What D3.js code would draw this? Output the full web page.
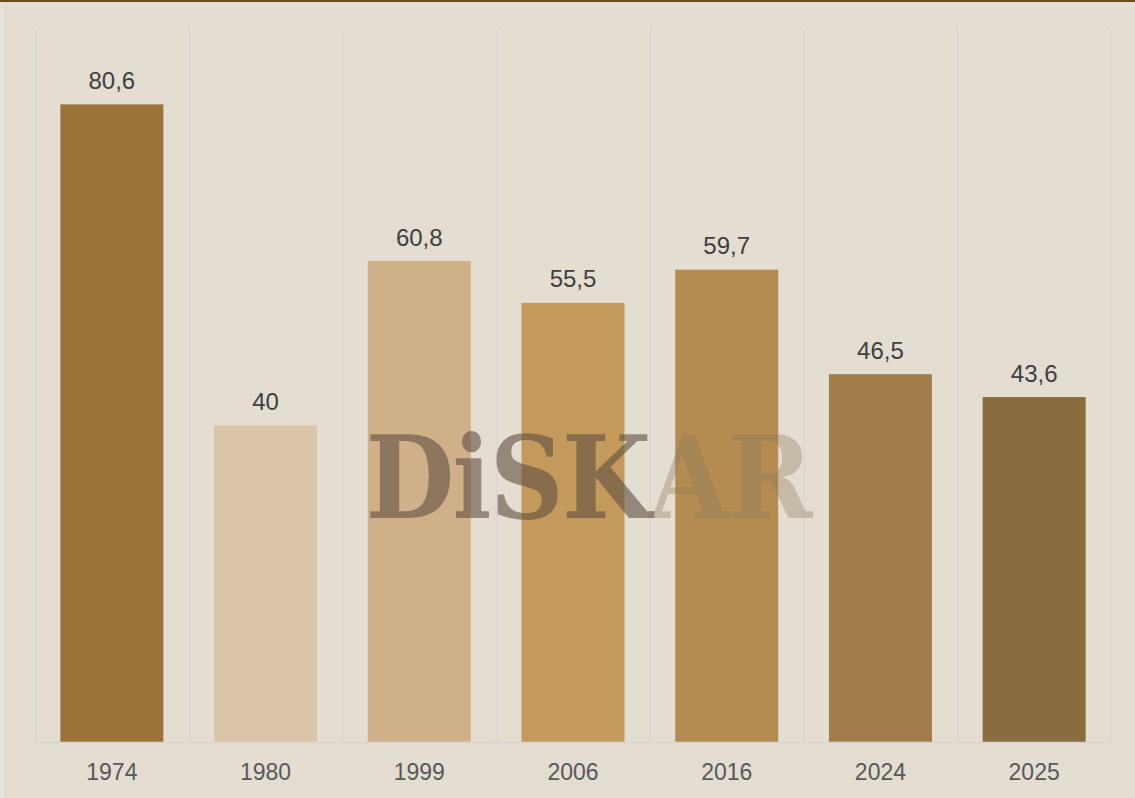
<!DOCTYPE html>
<html>
<head>
<meta charset="utf-8">
<script src="https://cdn.jsdelivr.net/npm/d3@7"></script>
<style>
  html, body { margin: 0; padding: 0; background: #e3ddd2; }
  svg { display: block; font-family: "Liberation Sans", Arial, sans-serif; }
</style>
</head>
<body>
<div id="chart"></div>
<script>
// data
var years = ["1974", "1980", "1999", "2006", "2016", "2024", "2025"];
var values = [80.6, 40, 60.8, 55.5, 59.7, 46.5, 43.6];
var labels = ["80,6", "40", "60,8", "55,5", "59,7", "46,5", "43,6"];
var colors = ["#9b733a", "#dbc5aa", "#d0b088", "#c49a5c", "#b48c52", "#a07d4b", "#8a6d3f"];

var width = 1135, height = 798;
var margin = {top: 30, right: 24, bottom: 56, left: 35};

var svg = d3.select("#chart")
    .append("svg")
    .attr("width", width)
    .attr("height", height);

// background + frame
svg.append("rect")
    .attr("width", width)
    .attr("height", height)
    .attr("fill", "#e3ddd2");
svg.append("rect")
    .attr("x", 0).attr("y", 0)
    .attr("width", 5).attr("height", height)
    .attr("fill", "#e6e2da");
svg.append("line")
    .attr("x1", 5.5).attr("x2", 5.5)
    .attr("y1", 2).attr("y2", height)
    .attr("stroke", "#d9d7d3")
    .attr("stroke-width", 1);
svg.append("line")
    .attr("x1", 0).attr("x2", width)
    .attr("y1", 1).attr("y2", 1)
    .attr("stroke", "#6b4c1c")
    .attr("stroke-width", 2);

var x = d3.scaleBand()
    .domain(years)
    .range([margin.left, width - margin.right])
    .paddingInner(0.33)
    .paddingOuter(0.165);

var band = d3.scaleBand()
    .domain(years)
    .range([margin.left, width - margin.right]);

var y = d3.scaleLinear()
    .domain([0, 90])
    .range([height - margin.bottom, margin.top]);

// vertical gridlines between categories
var gridX = years.map(function (d) { return band(d); }).concat([width - margin.right]);
svg.append("g")
    .selectAll("line")
    .data(gridX)
    .enter()
    .append("line")
    .attr("x1", function (d) { return Math.round(d) + 0.5; })
    .attr("x2", function (d) { return Math.round(d) + 0.5; })
    .attr("y1", y(90))
    .attr("y2", y(0))
    .attr("stroke", "#d8d7d3")
    .attr("stroke-width", 1.5);

// bars
svg.append("g")
    .selectAll("rect")
    .data(years)
    .enter()
    .append("rect")
    .attr("x", function (d) { return x(d); })
    .attr("width", x.bandwidth())
    .attr("y", function (d, i) { return y(values[i]); })
    .attr("height", function (d, i) { return y(0) - y(values[i]); })
    .attr("fill", function (d, i) { return colors[i]; });

// baseline
svg.append("line")
    .attr("x1", margin.left)
    .attr("x2", width - margin.right)
    .attr("y1", y(0) + 0.5)
    .attr("y2", y(0) + 0.5)
    .attr("stroke", "#d8d7d3")
    .attr("stroke-width", 1.5);

// value labels
svg.append("g")
    .selectAll("text")
    .data(years)
    .enter()
    .append("text")
    .attr("x", function (d) { return x(d) + x.bandwidth() / 2; })
    .attr("y", function (d, i) { return y(values[i]) - 15.5; })
    .attr("text-anchor", "middle")
    .attr("font-size", 24)
    .attr("fill", "#404040")
    .text(function (d, i) { return labels[i]; });

// x axis
var xAxis = d3.axisBottom(x).tickSize(0).tickPadding(0);
var gx = svg.append("g")
    .attr("transform", "translate(0," + y(0) + ")")
    .call(xAxis);
gx.select(".domain").remove();
gx.selectAll("text")
    .attr("dy", 0)
    .attr("y", 38)
    .attr("font-size", 23)
    .attr("font-family", "Liberation Sans, Arial, sans-serif")
    .attr("fill", "#595959");

// watermark
var wm = svg.append("text")
    .attr("x", 0)
    .attr("y", 0)
    .attr("text-anchor", "middle")
    .attr("transform", "translate(588,518) scale(0.9,1)")
    .attr("font-family", "DejaVu Serif")
    .attr("font-weight", "bold")
    .attr("font-size", 114)
    .attr("letter-spacing", -2);
wm.append("tspan")
    .attr("fill", "rgba(95,80,65,0.6)")
    .text("DiSK");
wm.append("tspan")
    .attr("fill", "rgba(140,120,90,0.35)")
    .text("AR");
</script>
</body>
</html>
